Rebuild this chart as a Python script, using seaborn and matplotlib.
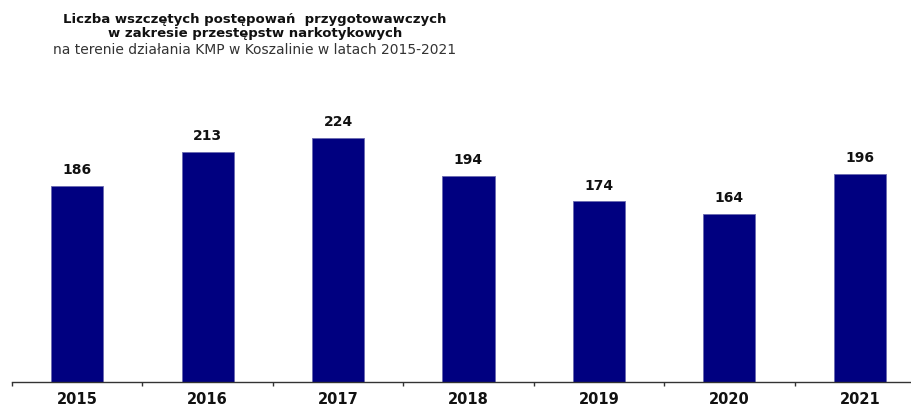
import seaborn as sns
import pandas as pd
import matplotlib.pyplot as plt
import numpy as np

# data
years = ['2015', '2016', '2017', '2018', '2019', '2020', '2021']
cases = [186, 213, 224, 194, 174, 164, 196]

df = pd.DataFrame({'rok': years, 'liczba': cases})

sns.set_style('white')
plt.rcParams['font.family'] = ['DejaVu Sans']

fig = plt.figure(figsize=(9.12, 4.05), dpi=100)
ax = fig.add_axes([12 / 912, 23 / 405, 913 / 912, 322 / 405])

sns.barplot(data=df, x='rok', y='liczba', color='#000080', width=0.4,
            saturation=1, edgecolor='#6a6ab0', linewidth=0.6, ax=ax)

# value labels above bars
for i, v in enumerate(cases):
    ax.text(i, v + 7, str(v), ha='center', va='bottom',
            fontsize=10, fontweight='bold', color='#111111')

ax.set_ylim(31, 286)
ax.set_xlim(-0.5, len(years) - 0.5)
ax.set_xlabel('')
ax.set_ylabel('')
ax.set_yticks([])
for s in ['top', 'right', 'left']:
    ax.spines[s].set_visible(False)
ax.spines['bottom'].set_color('#333333')
ax.spines['bottom'].set_linewidth(1)

# ticks at category boundaries, labels at centres
ax.set_xticks(np.arange(len(years) + 1) - 0.5, minor=True)
ax.tick_params(axis='x', which='minor', bottom=True, length=3, color='#333333',
               width=1, direction='out')
ax.tick_params(axis='x', which='major', bottom=True, length=0, pad=7, labelsize=10.5)
for lab in ax.get_xticklabels():
    lab.set_fontweight('bold')
    lab.set_color('#111111')

# title
tx = 255 / 912
fig.text(tx, 1 - 19 / 405, 'Liczba wszczętych postępowań  przygotowawczych',
         ha='center', va='center', fontsize=9.5, fontweight='bold', color='#111111')
fig.text(tx, 1 - 34 / 405, 'w zakresie przestępstw narkotykowych',
         ha='center', va='center', fontsize=9.5, fontweight='bold', color='#111111')
fig.text(tx, 1 - 49.5 / 405, 'na terenie działania KMP w Koszalinie w latach 2015-2021',
         ha='center', va='center', fontsize=10, color='#333333')

fig.savefig('out.png', dpi=100)
